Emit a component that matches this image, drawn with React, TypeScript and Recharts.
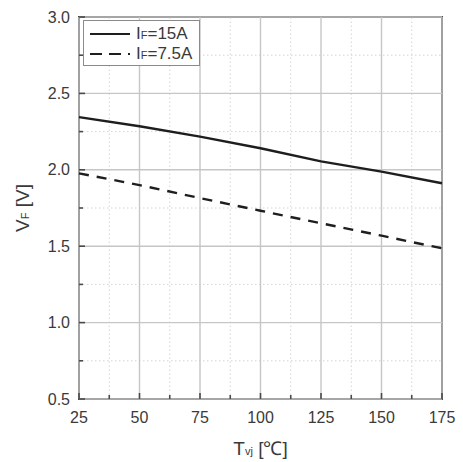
import React from "react";
import {
  LineChart,
  Line,
  XAxis,
  YAxis,
  ReferenceLine,
  ReferenceArea,
  Legend,
} from "recharts";

const temps = [25, 50, 75, 100, 125, 150, 175];
const vf15A = [2.345, 2.285, 2.217, 2.141, 2.055, 1.988, 1.912];
const vf7p5A = [1.977, 1.9, 1.815, 1.732, 1.65, 1.569, 1.486];

const xMajorTicks = [25, 50, 75, 100, 125, 150, 175];
const xMinorTicks = [37.5, 62.5, 87.5, 112.5, 137.5, 162.5];
const yMajorTicks = [0.5, 1.0, 1.5, 2.0, 2.5, 3.0];
const yMinorTicks = [0.75, 1.25, 1.75, 2.25, 2.75];

const seriesNames = ["15A", "7.5A"];

const data = temps.map((t, i) => ({ t, a: vf15A[i], b: vf7p5A[i] }));

const FONT = "'Liberation Sans', Arial, Helvetica, sans-serif";
const TEXT = "#3a3a3a";
const FRAME = "#4a4a4a";

const xTicksAll = [...xMajorTicks, ...xMinorTicks].sort((a, b) => a - b);
const yTicksAll = [...yMajorTicks, ...yMinorTicks].sort((a, b) => a - b);

const XTick = (props: any) => {
  const { x, y, payload } = props;
  const major = xMajorTicks.includes(payload.value);
  return (
    <g>
      <line x1={x} y1={y} x2={x} y2={y - (major ? 6 : 4)} stroke={FRAME} strokeWidth={1.6} />
      {major && (
        <text x={x} y={y + 24} textAnchor="middle" fontSize={16} fontFamily={FONT} fill={TEXT}>
          {payload.value}
        </text>
      )}
    </g>
  );
};

const YTick = (props: any) => {
  const { x, y, payload } = props;
  const major = yMajorTicks.includes(payload.value);
  return (
    <g>
      <line x1={x} y1={y} x2={x + (major ? 6 : 4)} y2={y} stroke={FRAME} strokeWidth={1.6} />
      {major && (
        <text x={x - 9} y={y + 5.5} textAnchor="end" fontSize={16} fontFamily={FONT} fill={TEXT}>
          {payload.value.toFixed(1)}
        </text>
      )}
    </g>
  );
};

const XLabel = (props: any) => {
  const { viewBox } = props;
  const cx = viewBox.x + viewBox.width / 2;
  return (
    <text x={cx} y={455} textAnchor="middle" fontSize={19} fontFamily={FONT} fill={TEXT}>
      <tspan>T</tspan>
      <tspan fontSize={11}>vj</tspan>
      <tspan> [℃]</tspan>
    </text>
  );
};

const YLabel = (props: any) => {
  const { viewBox } = props;
  const cy = 17 + 382 / 2;
  return (
    <text
      x={29}
      y={cy}
      transform={`rotate(-90, 29, ${cy})`}
      textAnchor="middle"
      fontSize={19}
      fontFamily={FONT}
      fill={TEXT}
    >
      <tspan>V</tspan>
      <tspan fontSize={11}>F</tspan>
      <tspan> [V]</tspan>
    </text>
  );
};

const LegendContent = () => (
  <div
    style={{
      width: 117,
      height: 46,
      boxSizing: "border-box",
      border: "1.5px solid #8a8a8a",
      background: "#fff",
      fontFamily: FONT,
      color: TEXT,
      fontSize: 17,
      paddingTop: 3,
    }}
  >
    {seriesNames.map((name, i) => (
      <div key={name} style={{ display: "flex", alignItems: "center", height: 20 }}>
        <svg width={52} height={20} style={{ display: "block" }}>
          <line
            x1={6}
            x2={46}
            y1={10}
            y2={10}
            stroke="#1e1e1e"
            strokeWidth={2.2}
            strokeDasharray={i === 1 ? "12 7" : undefined}
          />
        </svg>
        <span style={{ lineHeight: "20px", whiteSpace: "nowrap" }}>
          I<span style={{ fontSize: 11 }}>F</span>={name}
        </span>
      </div>
    ))}
  </div>
);

export default function App() {
  return (
    <div style={{ position: "absolute", left: 0, top: 0, width: 463, height: 462, background: "#fff" }}>
      <LineChart
        width={463}
        height={462}
        data={data}
        margin={{ top: 17, right: 21, bottom: 33, left: 19 }}
      >
        <XAxis
          dataKey="t"
          type="number"
          domain={[25, 175]}
          ticks={xTicksAll}
          interval={0}
          tick={<XTick />}
          tickLine={false}
          axisLine={false}
          tickSize={0}
          tickMargin={0}
          height={30}
          label={<XLabel />}
        />
        <YAxis
          type="number"
          domain={[0.5, 3.0]}
          ticks={yTicksAll}
          interval={0}
          tick={<YTick />}
          tickLine={false}
          axisLine={false}
          tickSize={0}
          tickMargin={0}
          width={60}
          label={<YLabel />}
        />
        {xMinorTicks.map((v) => (
          <ReferenceLine key={`xm${v}`} x={v} stroke="#d4d4d4" strokeWidth={1} strokeDasharray="1.5 2.5" />
        ))}
        {yMinorTicks.map((v) => (
          <ReferenceLine key={`ym${v}`} y={v} stroke="#d4d4d4" strokeWidth={1} strokeDasharray="1.5 2.5" />
        ))}
        {xMajorTicks.map((v) => (
          <ReferenceLine key={`xM${v}`} x={v} stroke="#c6c6c6" strokeWidth={1.4} />
        ))}
        {yMajorTicks.map((v) => (
          <ReferenceLine key={`yM${v}`} y={v} stroke="#c6c6c6" strokeWidth={1.4} />
        ))}
        <ReferenceArea x1={25} x2={175} y1={0.5} y2={3.0} fill="none" stroke={FRAME} strokeWidth={2} />
        <Line
          type="linear"
          dataKey="a"
          stroke="#1e1e1e"
          strokeWidth={2.4}
          dot={false}
          isAnimationActive={false}
        />
        <Line
          type="linear"
          dataKey="b"
          stroke="#1e1e1e"
          strokeWidth={2.4}
          strokeDasharray="10 8"
          dot={false}
          isAnimationActive={false}
        />
        <Legend
          layout="vertical"
          align="center"
          verticalAlign="middle"
          content={<LegendContent />}
          wrapperStyle={{ left: 83, top: 20, width: "auto", height: "auto" }}
        />
      </LineChart>
    </div>
  );
}
